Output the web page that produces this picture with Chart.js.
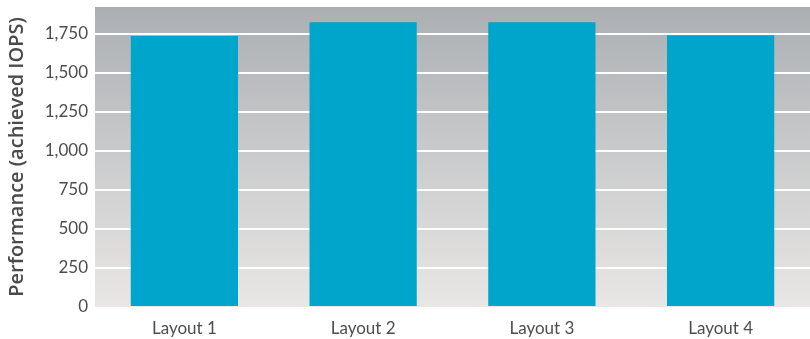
<!DOCTYPE html>
<html>
<head>
<meta charset="utf-8">
<script src="https://cdn.jsdelivr.net/npm/chart.js@4"></script>
<style>
  html, body { margin: 0; padding: 0; background: #fff; }
  #wrap { width: 810px; height: 339px; }
</style>
</head>
<body>
<div id="wrap"><canvas id="iopsChart" width="810" height="339"></canvas></div>
<script>
const layouts = ['Layout 1', 'Layout 2', 'Layout 3', 'Layout 4'];
const achievedIops = [1735, 1823, 1823, 1740];
const yTicks = [0, 250, 500, 750, 1000, 1250, 1500, 1750];

// grey gradient behind the plot area
const plotBackground = {
  id: 'plotBackground',
  beforeDraw(chart) {
    const { ctx, chartArea: a } = chart;
    const g = ctx.createLinearGradient(0, a.top, 0, a.bottom);
    g.addColorStop(0, '#abafb3');
    g.addColorStop(1, '#e9e7e5');
    ctx.save();
    ctx.fillStyle = g;
    ctx.fillRect(a.left, a.top, a.right - a.left, a.bottom - a.top);
    ctx.restore();
  }
};

const ctx = document.getElementById('iopsChart').getContext('2d');
new Chart(ctx, {
  type: 'bar',
  data: {
    labels: layouts,
    datasets: [{
      data: achievedIops,
      backgroundColor: '#00a5cb',
      borderWidth: 0,
      categoryPercentage: 1,
      barPercentage: 0.6
    }]
  },
  options: {
    responsive: false,
    animation: false,
    layout: { padding: { top: 7, right: 0, left: 0, bottom: 0 } },
    plugins: {
      legend: { display: false },
      tooltip: { enabled: false }
    },
    scales: {
      x: {
        afterFit(axis) { axis.height = 32; axis.paddingLeft = 0; axis.paddingRight = 0; },
        grid: { display: false, drawTicks: false },
        border: { display: false },
        ticks: {
          color: '#4d4d4d',
          padding: 11,
          font: { family: 'Lato', size: 17 }
        }
      },
      y: {
        min: 0,
        max: 1920,
        afterFit(axis) { axis.width = 95; axis.paddingTop = 0; axis.paddingBottom = 0; },
        afterBuildTicks(axis) {
          axis.ticks = yTicks.map(v => ({ value: v }));
        },
        grid: {
          color: ctx => ctx.tick.value === 0 ? 'rgba(0,0,0,0)' : '#ffffff',
          lineWidth: 2,
          drawTicks: false
        },
        border: { display: false },
        ticks: {
          color: '#4d4d4d',
          padding: 7,
          font: { family: 'Lato', size: 17 },
          callback: v => v.toLocaleString('en-US')
        },
        title: {
          display: true,
          text: 'Performance (achieved IOPS)',
          color: '#4a4a4a',
          padding: { top: 5, bottom: 0 },
          font: { family: 'Open Sans', size: 20, weight: '600' }
        }
      }
    }
  },
  plugins: [plotBackground]
});
</script>
</body>
</html>
